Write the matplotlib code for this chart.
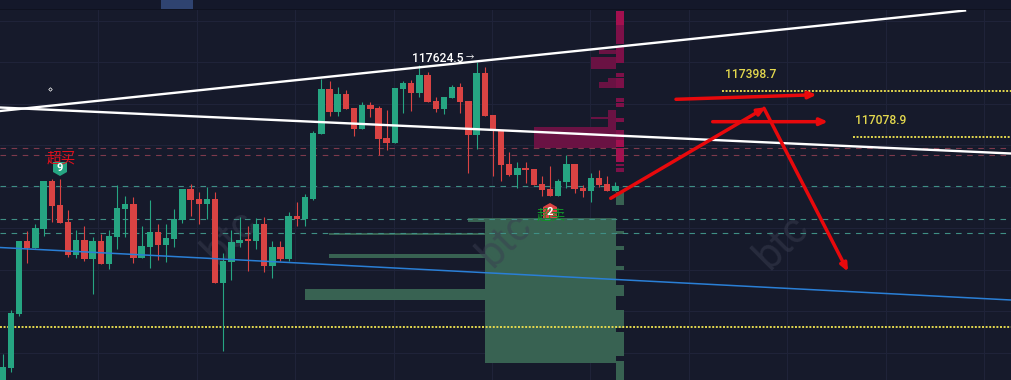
import numpy as np
import matplotlib
matplotlib.use('Agg')
import matplotlib.pyplot as plt

plt.rcParams['font.family'] = ['Roboto', 'Noto Sans CJK SC', 'DejaVu Sans']

# All levels are read off the picture as screen rows (the chart has no price axis)
opens = [385, 368, 314, 241, 248, 229, 181, 205, 222, 255, 240, 259, 241, 264, 237, 209, 204, 258, 247, 232,
         245, 239, 220, 189, 199, 204, 199, 283, 262, 243, 239, 241, 224, 266, 247, 259, 216, 219, 199, 134,
         89, 112, 94, 108, 129, 105, 108, 138, 143, 89, 83, 93, 75, 101, 109, 98, 87, 101, 135, 73,
         115, 130, 164, 175, 168, 169, 184, 189, 196, 182, 164, 188, 191, 178, 184, 191]
closes = [367, 313, 241, 248, 228, 181, 206, 223, 255, 240, 259, 241, 264, 236, 208, 204, 258, 246, 232, 245,
          238, 219, 189, 200, 204, 199, 283, 261, 242, 240, 241, 224, 266, 247, 259, 216, 219, 197, 133, 89,
          112, 94, 109, 129, 105, 109, 139, 143, 88, 83, 93, 75, 102, 109, 97, 87, 102, 135, 73, 116,
          129, 165, 175, 168, 170, 185, 190, 196, 181, 164, 189, 191, 178, 185, 191, 186]
highs = [354, 310, 241, 231, 224, 181, 179, 179, 210, 230, 226, 237, 234, 230, 185, 196, 197, 226, 200, 224,
         224, 209, 189, 184, 192, 187, 192, 253, 230, 217, 226, 218, 217, 241, 241, 212, 202, 194, 131, 79,
         81, 87, 90, 108, 102, 102, 106, 110, 88, 81, 80, 65, 72, 97, 97, 85, 83, 101, 62, 67,
         115, 130, 152, 162, 162, 169, 176, 166, 179, 155, 164, 185, 173, 170, 176, 182]
lows = [385, 372, 316, 263, 248, 236, 222, 223, 257, 258, 261, 294, 264, 269, 249, 237, 263, 258, 268, 260,
        262, 247, 223, 216, 224, 219, 283, 351, 280, 247, 271, 249, 272, 278, 261, 261, 226, 226, 200, 134,
        116, 116, 109, 136, 129, 117, 155, 150, 143, 113, 111, 97, 102, 112, 114, 98, 113, 173, 149, 116,
        176, 181, 176, 188, 183, 185, 196, 196, 196, 188, 193, 197, 202, 187, 191, 191]

# volume profile bins: row of the bin top, bin height, left and right edge
green_tops = [218, 233, 254, 289, 222, 192, 231, 246, 266, 285, 310, 332, 361]
green_heights = [4, 2, 4, 11, 140.5, 13, 3, 4, 4, 11, 18, 24, 19]
green_lefts = [468, 329, 329, 305, 485, 616, 616, 616, 616, 616, 616, 616, 616]
green_rights = [616, 485, 485, 485, 616, 624, 624, 624, 624, 624, 624, 624, 624]

red_tops = [127, 50, 57, 82, 78, 110, 117]
red_heights = [21, 4, 12, 6, 4, 20, 2]
red_lefts = [534, 599, 591, 599, 608, 608, 591]
red_rights = [616, 616, 616, 616, 616, 616, 608]

column_tops = [25, 47, 73, 78, 98, 103, 118, 130, 164, 168]
column_heights = [19, 16, 4, 10, 4, 4, 4, 10, 2, 4]
bright_tops = [11, 140, 148]
bright_heights = [14, 7, 14]

upper_trend = ([0, 965], [111, 10.5])
lower_trend = ([0, 1011], [107.5, 153.5])
blue_trend = ([0, 1011], [247.5, 300])

teal_levels = [186.3, 219.3, 233.3]
red_levels = [148.3, 155.3]

bg = '#161a2b'
up = '#26a582'
down = '#d94343'
yellow = '#e4d94e'
arrow_red = '#e8090c'

fig = plt.figure(figsize=(10.11, 3.80), dpi=100, facecolor=bg)
ax = fig.add_axes([0, 0, 1, 1])
ax.set_xlim(0, 1011)
ax.set_ylim(380, 0)
ax.set_facecolor(bg)
ax.axis('off')

# grid
for gx in np.arange(98.4, 1011, 98.4):
    ax.axvline(gx, color='#20243a', lw=0.7, zorder=1)
for gy in np.arange(20.5, 380, 41.5):
    ax.axhline(gy, color='#20243a', lw=0.7, zorder=1)

# volume profile
ax.barh(green_tops, np.subtract(green_rights, green_lefts), height=green_heights, left=green_lefts,
        align='edge', color='#386252', lw=0, zorder=2)
ax.barh(red_tops, np.subtract(red_rights, red_lefts), height=red_heights, left=red_lefts,
        align='edge', color='#6a1243', lw=0, zorder=2)
ax.barh(column_tops, 8.5, height=column_heights, left=615.7, align='edge', color='#7d1048', lw=0, zorder=2)
ax.barh(bright_tops, 8.5, height=bright_heights, left=615.7, align='edge', color='#a3104f', lw=0, zorder=2)

# watermark
for wx, wy in [(230, 237), (505, 240), (782, 242)]:
    ax.text(wx, wy, 'btc', color='#3a3e50', alpha=0.5, fontsize=30, rotation=45, ha='center', va='center', zorder=2.5)

# horizontal levels
for y in teal_levels:
    ax.axhline(y, color='#3f8f85', lw=0.8, ls=(0, (5, 5)), zorder=3)
for y in red_levels:
    ax.axhline(y, color='#7d3a4c', lw=0.8, ls=(0, (5, 5)), zorder=3)

dots = (0, (1, 0.85))
ax.axhline(326.7, color=yellow, lw=1.4, ls=dots, zorder=3)
ax.plot([722, 1011], [91.3, 91.3], color=yellow, lw=1.4, ls=dots, zorder=3)
ax.plot([853, 1011], [137.3, 137.3], color=yellow, lw=1.4, ls=dots, zorder=3)

# candles
x = 2.7 + 8.17 * np.arange(len(opens))
o = np.array(opens)
c = np.array(closes)
colors = [up if a <= b else down for a, b in zip(c, o)]
ax.vlines(x, highs, lows, colors=colors, lw=0.8, zorder=4)
ax.bar(x, np.abs(o - c), bottom=np.minimum(o, c), width=6.4, color=colors, lw=0, zorder=4)

# trend lines
ax.plot(*blue_trend, color='#2a7fd6', lw=1.1, zorder=5)
ax.plot(*upper_trend, color='white', lw=1.7, zorder=5)
ax.plot(*lower_trend, color='white', lw=1.7, zorder=5)

# hand drawn arrows
for start, end in [((610.7, 198.3), (765.7, 107.3)), ((764, 108.3), (848, 271.7)),
                   ((676, 99.3), (816.7, 94.7)), ((712.7, 121.7), (828, 121.7))]:
    ax.annotate('', xy=end, xytext=start, zorder=6,
                arrowprops=dict(arrowstyle='-|>,head_length=0.45,head_width=0.2', color=arrow_red, lw=2.5,
                                shrinkA=0, shrinkB=0))

# signal badges
ax.fill([53, 60, 67, 67, 60, 53], [162, 162, 162, 172, 176, 172], color=up, lw=0, zorder=6)
ax.text(61, 158.5, '超买', color='#e0101c', fontsize=10.5, ha='center', va='center', zorder=7)
ax.text(60, 168, '9', color='white', fontsize=8, fontweight='bold', ha='center', va='center', zorder=7)

ax.fill([543, 550, 557, 557, 543], [207, 203, 207, 218, 218], color=down, lw=0, zorder=6)
ax.text(551, 215.5, '超卖', color='#12902a', fontsize=10.5, ha='center', va='center', zorder=7)
ax.text(550, 212, '2', color='white', fontsize=8, fontweight='bold', ha='center', va='center', zorder=8)

# labels
ax.text(412, 58, '117624.5', color='white', fontsize=8.7, fontweight='medium', ha='left', va='center', zorder=7)
ax.text(466, 58, '→', color='white', fontsize=6, ha='left', va='center', zorder=7)
ax.text(724.5, 74.5, '117398.7', color=yellow, fontsize=8.7, fontweight='medium', ha='left', va='center', zorder=7)
ax.text(855, 120.5, '117078.9', color=yellow, fontsize=8.7, fontweight='medium', ha='left', va='center', zorder=7)
ax.plot([49.5], [88.5], marker='D', ms=1.8, mfc='none', mec='white', mew=0.5, zorder=7)

# toolbar strip at the top edge of the screenshot
ax.fill_between([0, 1011], 0, 9, color='#14182a', lw=0, zorder=8)
ax.axhline(9.2, color='#0f1220', lw=0.7, zorder=8)
ax.fill_between([161, 193], 0, 9, color='#2f4370', lw=0, zorder=9)

fig.savefig('out.png', dpi=100, facecolor=bg)
